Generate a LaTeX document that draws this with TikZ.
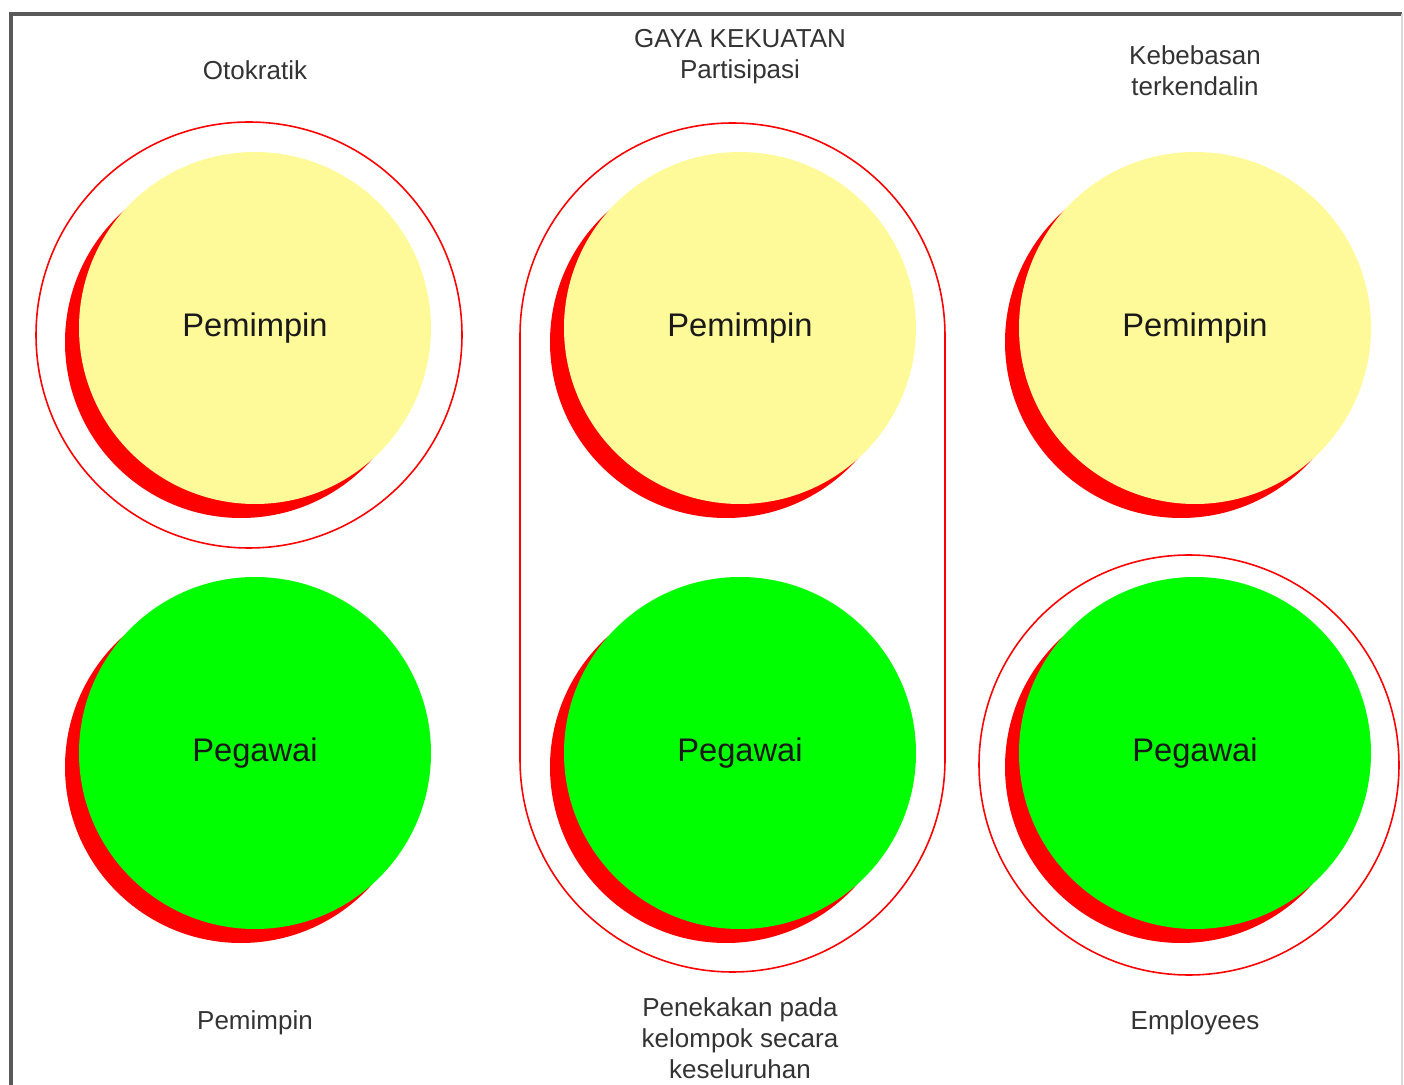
\documentclass[tikz,border=0pt]{standalone}
\usepackage{fontspec}
\setmainfont{Liberation Sans}

\begin{document}
\begin{tikzpicture}[x=0.1mm,y=-0.1mm,
		smalltext/.style={text=black!80, align=center, inner sep=0pt, font=\fontsize{7.4}{8.8}\selectfont},
		bigtext/.style={text=black!90, inner sep=0pt, font=\fontsize{9.3}{11}\selectfont},
		ring/.style={draw=red, line width=0.45pt}]
		\useasboundingbox (0,0) rectangle (1404,1085);
		\draw[black!65, line width=0.9pt] (11,1085) -- (11,14) -- (1402,14);
		\draw[black!15, line width=0.4pt] (1402,14) -- (1402,1085);
		\foreach \x in {255,740,1195}{
			\fill[red] (\x-14,342) circle (176);
			\fill[yellow!40] (\x,328) circle (176);
			\fill[red] (\x-14,767) circle (176);
			\fill[green] (\x,753) circle (176);
		}
		\draw[ring] (249,335) circle (213);
		\draw[ring, rounded corners=21.25mm] (520,123) rectangle (945,972);
		\draw[ring] (1189,765) circle (210);
		\node[smalltext] (otokratik) at (255,70) {Otokratik};
		\node[smalltext] (gaya) at (740,57) {GAYA KEKUATAN\\Partisipasi};
		\node[smalltext] (bebas) at (1195,71) {Kebebasan\\terkendalin};
		\node[bigtext] (pim1) at (255,328) {Pemimpin};
		\node[bigtext] (pim2) at (740,328) {Pemimpin};
		\node[bigtext] (pim3) at (1195,328) {Pemimpin};
		\node[bigtext] (peg1) at (255,753) {Pegawai};
		\node[bigtext] (peg2) at (740,753) {Pegawai};
		\node[bigtext] (peg3) at (1195,753) {Pegawai};
		\node[smalltext] (bawah1) at (255,1023) {Pemimpin};
		\node[smalltext] (bawah2) at (740,1038) {Penekakan pada\\kelompok secara\\keseluruhan};
		\node[smalltext] (bawah3) at (1195,1023) {Employees};
\end{tikzpicture}
\end{document}
